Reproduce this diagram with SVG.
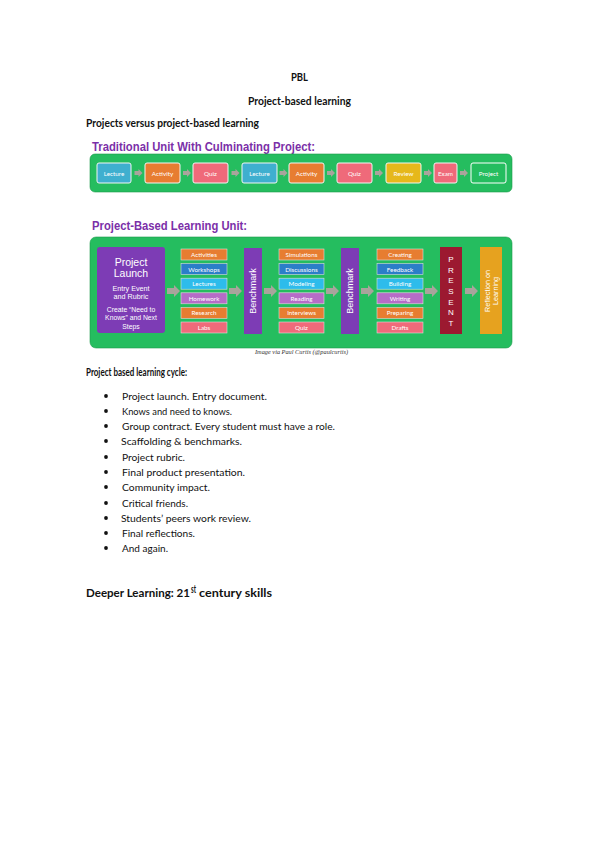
<svg xmlns="http://www.w3.org/2000/svg" width="599" height="848" viewBox="0 0 599 848">
<defs>
<style>
.h{font-family:Lato,"Liberation Sans",sans-serif;font-weight:bold;font-size:10.5px;fill:#111}
.b{font-family:Lato,"Liberation Sans",sans-serif;font-size:10px;fill:#111}
.t{font-family:"Liberation Sans",Arial,sans-serif;font-weight:bold;font-size:12px;fill:#7B2FA8}
.w{font-family:Lato,"Liberation Sans",sans-serif;font-size:6.3px;fill:#fff;text-anchor:middle}
.wl{font-family:"Liberation Sans",Arial,sans-serif;fill:#fff;text-anchor:middle}
.bx{stroke:#f4f4f4;stroke-width:1}
.cb{stroke:#ddd;stroke-width:0.6}
.arr{fill:#A9A49C}
.cap{font-family:"Liberation Serif","Times New Roman",serif;font-style:italic;font-size:6.5px;fill:#333}
</style>
<path id="sa" d="M0,-2 H4 V-4 L8,0 L4,4 V2 H0 Z"/>
<path id="ba" d="M0,-3 H7 V-6 L13,0 L7,6 V3 H0 Z"/>
</defs>

<g id="headings">
<text class="h" x="291" y="81" textLength="17" lengthAdjust="spacingAndGlyphs">PBL</text>
<text class="h" x="248" y="105" textLength="103" lengthAdjust="spacingAndGlyphs">Project-based learning</text>
<text class="h" x="86" y="127" textLength="173" lengthAdjust="spacingAndGlyphs">Projects versus project-based learning</text>
</g>

<g id="traditional">
<text class="t" x="92" y="151" textLength="223" lengthAdjust="spacingAndGlyphs">Traditional Unit With Culminating Project:</text>
<rect x="90" y="154" width="422" height="38" rx="5" fill="#25BD5F" stroke="#1c9a4c" stroke-width="0.6"/>
<g id="t-lecture1"><rect class="bx" x="97" y="163" width="34" height="20" rx="2" fill="#3FAFCF"/><text class="w" x="114" y="175.5">Lecture</text></g>
<g id="t-activity1"><rect class="bx" x="145" y="163" width="35" height="20" rx="2" fill="#E77D31"/><text class="w" x="162.5" y="175.5">Activity</text></g>
<g id="t-quiz1"><rect class="bx" x="193" y="163" width="35" height="20" rx="2" fill="#EF6A7A"/><text class="w" x="210.5" y="175.5">Quiz</text></g>
<g id="t-lecture2"><rect class="bx" x="242" y="163" width="35" height="20" rx="2" fill="#3FAFCF"/><text class="w" x="259.5" y="175.5">Lecture</text></g>
<g id="t-activity2"><rect class="bx" x="289" y="163" width="35" height="20" rx="2" fill="#E77D31"/><text class="w" x="306.5" y="175.5">Activity</text></g>
<g id="t-quiz2"><rect class="bx" x="337" y="163" width="35" height="20" rx="2" fill="#EF6A7A"/><text class="w" x="354.5" y="175.5">Quiz</text></g>
<g id="t-review"><rect class="bx" x="386" y="163" width="35" height="20" rx="2" fill="#E6B81B"/><text class="w" x="403.5" y="175.5">Review</text></g>
<g id="t-exam"><rect class="bx" x="434" y="163" width="23" height="20" rx="2" fill="#EF6A7A"/><text class="w" x="445.5" y="175.5">Exam</text></g>
<g id="t-project"><rect x="471" y="163" width="35" height="20" rx="2" fill="#25BD5F" stroke="#fff" stroke-width="1"/><text class="w" x="488.5" y="175.5">Project</text></g>
</g>

<g id="connectors">
<use href="#sa" class="arr" x="134.5" y="173"/>
<use href="#sa" class="arr" x="183" y="173"/>
<use href="#sa" class="arr" x="231.5" y="173"/>
<use href="#sa" class="arr" x="279.5" y="173"/>
<use href="#sa" class="arr" x="327" y="173"/>
<use href="#sa" class="arr" x="375" y="173"/>
<use href="#sa" class="arr" x="424" y="173"/>
<use href="#sa" class="arr" x="460" y="173"/>
</g>

<g id="pbl">
<text class="t" x="92" y="230" textLength="155" lengthAdjust="spacingAndGlyphs">Project-Based Learning Unit:</text>
<rect x="90" y="237" width="422" height="111" rx="6" fill="#25BD5F" stroke="#1c9a4c" stroke-width="0.6"/>
<g id="launch">
<rect x="97" y="247" width="68" height="86" rx="3" fill="#7D3CB5"/>
<text class="wl" x="131" y="265.5" font-size="10.5">Project</text>
<text class="wl" x="131" y="277" font-size="10.5">Launch</text>
<text class="wl" x="131" y="290.5" font-size="7.2">Entry Event</text>
<text class="wl" x="131" y="299" font-size="7.2">and Rubric</text>
<text class="wl" x="131" y="311.5" font-size="6.8">Create “Need to</text>
<text class="wl" x="131" y="320" font-size="6.8">Knows” and Next</text>
<text class="wl" x="131" y="328.5" font-size="6.8">Steps</text>
</g>

<g id="col1">
<rect class="cb" x="181" y="249" width="46" height="11" fill="#E77D31"/><text class="w" x="204" y="257">Activities</text>
<rect class="cb" x="181" y="263.6" width="46" height="11" fill="#2B7EC8"/><text class="w" x="204" y="271.6">Workshops</text>
<rect class="cb" x="181" y="278.2" width="46" height="11" fill="#2DBCEB"/><text class="w" x="204" y="286.2">Lectures</text>
<rect class="cb" x="181" y="292.8" width="46" height="11" fill="#B66CC7"/><text class="w" x="204" y="300.8">Homework</text>
<rect class="cb" x="181" y="307.4" width="46" height="11" fill="#E77D31"/><text class="w" x="204" y="315.4">Research</text>
<rect class="cb" x="181" y="322" width="46" height="11" fill="#EF6A7A"/><text class="w" x="204" y="330">Labs</text>
</g>

<g id="benchmark1">
<rect x="244" y="248" width="18" height="86" fill="#7D3CB5"/>
<text class="wl" font-size="9" transform="translate(256.2,291) rotate(-90)">Benchmark</text>
</g>

<g id="col2">
<rect class="cb" x="279" y="249" width="45" height="11" fill="#E77D31"/><text class="w" x="301.5" y="257">Simulations</text>
<rect class="cb" x="279" y="263.6" width="45" height="11" fill="#2B7EC8"/><text class="w" x="301.5" y="271.6">Discussions</text>
<rect class="cb" x="279" y="278.2" width="45" height="11" fill="#2DBCEB"/><text class="w" x="301.5" y="286.2">Modeling</text>
<rect class="cb" x="279" y="292.8" width="45" height="11" fill="#B66CC7"/><text class="w" x="301.5" y="300.8">Reading</text>
<rect class="cb" x="279" y="307.4" width="45" height="11" fill="#E77D31"/><text class="w" x="301.5" y="315.4">Interviews</text>
<rect class="cb" x="279" y="322" width="45" height="11" fill="#EF6A7A"/><text class="w" x="301.5" y="330">Quiz</text>
</g>

<g id="benchmark2">
<rect x="341" y="248" width="18" height="86" fill="#7D3CB5"/>
<text class="wl" font-size="9" transform="translate(353.2,291) rotate(-90)">Benchmark</text>
</g>

<g id="col3">
<rect class="cb" x="377" y="249" width="46" height="11" fill="#E77D31"/><text class="w" x="400" y="257">Creating</text>
<rect class="cb" x="377" y="263.6" width="46" height="11" fill="#2B7EC8"/><text class="w" x="400" y="271.6">Feedback</text>
<rect class="cb" x="377" y="278.2" width="46" height="11" fill="#2DBCEB"/><text class="w" x="400" y="286.2">Building</text>
<rect class="cb" x="377" y="292.8" width="46" height="11" fill="#B66CC7"/><text class="w" x="400" y="300.8">Writing</text>
<rect class="cb" x="377" y="307.4" width="46" height="11" fill="#E77D31"/><text class="w" x="400" y="315.4">Preparing</text>
<rect class="cb" x="377" y="322" width="46" height="11" fill="#EF6A7A"/><text class="w" x="400" y="330">Drafts</text>
</g>

<g id="present">
<rect x="440" y="247" width="22" height="87" fill="#9C1930"/>
<text class="wl" font-size="8" x="451" y="262">P</text>
<text class="wl" font-size="8" x="451" y="272.7">R</text>
<text class="wl" font-size="8" x="451" y="283.3">E</text>
<text class="wl" font-size="8" x="451" y="294">S</text>
<text class="wl" font-size="8" x="451" y="304.7">E</text>
<text class="wl" font-size="8" x="451" y="315.3">N</text>
<text class="wl" font-size="8" x="451" y="326">T</text>
</g>

<g id="reflection">
<rect x="480" y="247" width="22" height="87" fill="#E6A21F"/>
<text class="wl" font-size="7.2" transform="translate(490,291) rotate(-90)">Reflection on</text>
<text class="wl" font-size="7.2" transform="translate(498,291) rotate(-90)">Learning</text>
</g>

<text class="cap" x="255" y="354" textLength="93" lengthAdjust="spacingAndGlyphs">Image via Paul Curtis (@paulcurtis)</text>
</g>

<g id="pbl-connectors">
<use href="#ba" class="arr" x="167" y="291"/>
<use href="#ba" class="arr" x="229" y="291"/>
<use href="#ba" class="arr" x="264" y="291"/>
<use href="#ba" class="arr" x="326" y="291"/>
<use href="#ba" class="arr" x="361" y="291"/>
<use href="#ba" class="arr" x="425" y="291"/>
<use href="#ba" class="arr" x="465" y="291"/>
</g>

<g id="cycle">
<text class="h" x="86" y="376" textLength="101" lengthAdjust="spacingAndGlyphs">Project based learning cycle:</text>
<g fill="#111">
<circle cx="106" cy="396" r="1.9"/>
<circle cx="106" cy="411" r="1.9"/>
<circle cx="106" cy="426" r="1.9"/>
<circle cx="106" cy="441" r="1.9"/>
<circle cx="106" cy="457" r="1.9"/>
<circle cx="106" cy="472" r="1.9"/>
<circle cx="106" cy="487" r="1.9"/>
<circle cx="106" cy="503" r="1.9"/>
<circle cx="106" cy="518" r="1.9"/>
<circle cx="106" cy="533" r="1.9"/>
<circle cx="106" cy="548" r="1.9"/>
</g>
<text class="b" x="122" y="399.5" textLength="145" lengthAdjust="spacingAndGlyphs">Project launch. Entry document.</text>
<text class="b" x="122" y="414.5" textLength="110" lengthAdjust="spacingAndGlyphs">Knows and need to knows.</text>
<text class="b" x="122" y="429.5" textLength="213" lengthAdjust="spacingAndGlyphs">Group contract. Every student must have a role.</text>
<text class="b" x="121" y="444.5" textLength="121" lengthAdjust="spacingAndGlyphs">Scaffolding &amp; benchmarks.</text>
<text class="b" x="122" y="460.5" textLength="63" lengthAdjust="spacingAndGlyphs">Project rubric.</text>
<text class="b" x="122" y="475.5" textLength="123" lengthAdjust="spacingAndGlyphs">Final product presentation.</text>
<text class="b" x="122" y="490.5" textLength="88" lengthAdjust="spacingAndGlyphs">Community impact.</text>
<text class="b" x="122" y="506.5" textLength="66" lengthAdjust="spacingAndGlyphs">Critical friends.</text>
<text class="b" x="121" y="521.5" textLength="130" lengthAdjust="spacingAndGlyphs">Students’ peers work review.</text>
<text class="b" x="122" y="536.5" textLength="73" lengthAdjust="spacingAndGlyphs">Final reflections.</text>
<text class="b" x="122" y="551.5" textLength="46" lengthAdjust="spacingAndGlyphs">And again.</text>
</g>

<g id="deeper">
<text class="h" x="86" y="597" textLength="104" lengthAdjust="spacingAndGlyphs">Deeper Learning: 21</text>
<text class="h" x="191" y="592.5" font-size="5.5" textLength="5" lengthAdjust="spacingAndGlyphs">st</text>
<text class="h" x="199" y="597" textLength="73" lengthAdjust="spacingAndGlyphs">century skills</text>
</g>
</svg>
